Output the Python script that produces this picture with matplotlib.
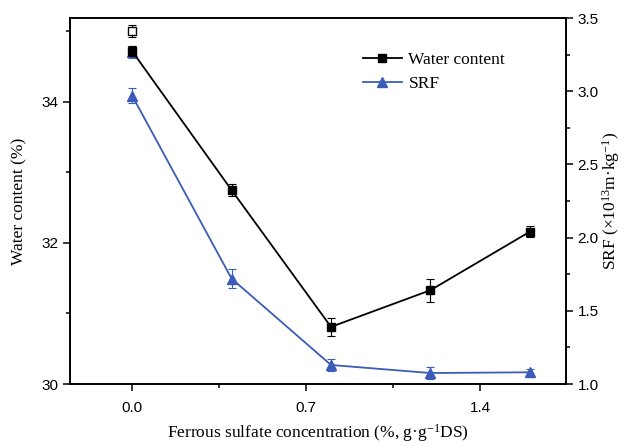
import matplotlib
matplotlib.use("Agg")
import matplotlib.pyplot as plt
from matplotlib.ticker import MultipleLocator
from matplotlib.lines import Line2D

plt.rcParams['font.family'] = 'Liberation Sans'
plt.rcParams['mathtext.fontset'] = 'custom'
plt.rcParams['mathtext.rm'] = 'Liberation Serif'
plt.rcParams['mathtext.it'] = 'Liberation Serif:italic'

# data
conc = [0.0, 0.4, 0.8, 1.2, 1.6]
water = [34.72, 32.75, 30.81, 31.33, 32.16]
water_err = [0.07, 0.09, 0.13, 0.16, 0.08]
srf = [2.97, 1.72, 1.13, 1.075, 1.08]
srf_err = [0.05, 0.065, 0.04, 0.04, 0.02]

# extra single points at 0 % (hollow square, hidden triangle)
extra_water = 35.01
extra_water_err = 0.085
extra_srf = 3.27
extra_srf_err = 0.04

blue = '#3b5cb8'
serif = 'Liberation Serif'

fig = plt.figure(figsize=(6.27, 4.46), dpi=100)
ax1 = fig.add_axes([0.1116, 0.139, 0.791, 0.8206])
ax2 = ax1.twinx()

ax2.errorbar([0.0], [extra_srf], yerr=[extra_srf_err], fmt='^', color=blue,
             ms=7, capsize=3, elinewidth=0.8, capthick=0.8, zorder=2)
ax2.errorbar(conc, srf, yerr=srf_err, fmt='-^', color=blue, lw=1.3,
             ms=7, capsize=3, elinewidth=0.8, capthick=0.8)

ax1.set_zorder(ax2.get_zorder() + 1)
ax1.patch.set_visible(False)
ax1.errorbar([0.0], [extra_water], yerr=[extra_water_err], fmt='s', color='black',
             mfc='white', ms=6, capsize=3, elinewidth=0.8, capthick=0.8)
ax1.errorbar(conc, water, yerr=water_err, fmt='-s', color='black', lw=1.3,
             ms=6, capsize=3, elinewidth=0.8, capthick=0.8)

ax1.set_xlim(-0.25, 1.745)
ax1.set_ylim(30, 35.19)
ax2.set_ylim(1.0, 3.5)

ax1.xaxis.set_major_locator(MultipleLocator(0.7))
ax1.xaxis.set_minor_locator(MultipleLocator(0.35))
ax1.yaxis.set_major_locator(MultipleLocator(2))
ax1.yaxis.set_minor_locator(MultipleLocator(1))
ax2.yaxis.set_major_locator(MultipleLocator(0.5))
ax2.yaxis.set_minor_locator(MultipleLocator(0.25))
ax1.xaxis.set_major_formatter(plt.FuncFormatter(lambda v, p: "%.1f" % v))
ax2.yaxis.set_major_formatter(plt.FuncFormatter(lambda v, p: "%.1f" % v))

for ax in (ax1, ax2):
    ax.tick_params(which='major', direction='out', length=5, width=1.1, labelsize=11)
    ax.tick_params(which='minor', direction='out', length=3, width=1.1)
    for sp in ax.spines.values():
        sp.set_linewidth(1.2)
ax1.tick_params(axis='x', pad=7)

ax1.set_xlabel(r"Ferrous sulfate concentration (%, g·g$^{-1}$DS)",
               fontfamily=serif, fontsize=12.5, labelpad=5)
ax1.set_ylabel("Water content (%)", fontfamily=serif, fontsize=12.5, labelpad=10)
ax2.set_ylabel(r"SRF ($\times$10$^{13}$m·kg$^{-1}$)", fontfamily=serif,
               fontsize=12.5, labelpad=1)

handles = [Line2D([], [], color='black', marker='s', ms=6, lw=1.3),
           Line2D([], [], color=blue, marker='^', ms=7, lw=1.3)]
ax1.legend(handles, ['Water content', 'SRF'], loc='upper left',
           bbox_to_anchor=(0.56, 0.95), frameon=False,
           prop={'family': serif, 'size': 12.5}, handlelength=2.2,
           handletextpad=0.4, labelspacing=0.45)

fig.savefig('out.png', dpi=100)
